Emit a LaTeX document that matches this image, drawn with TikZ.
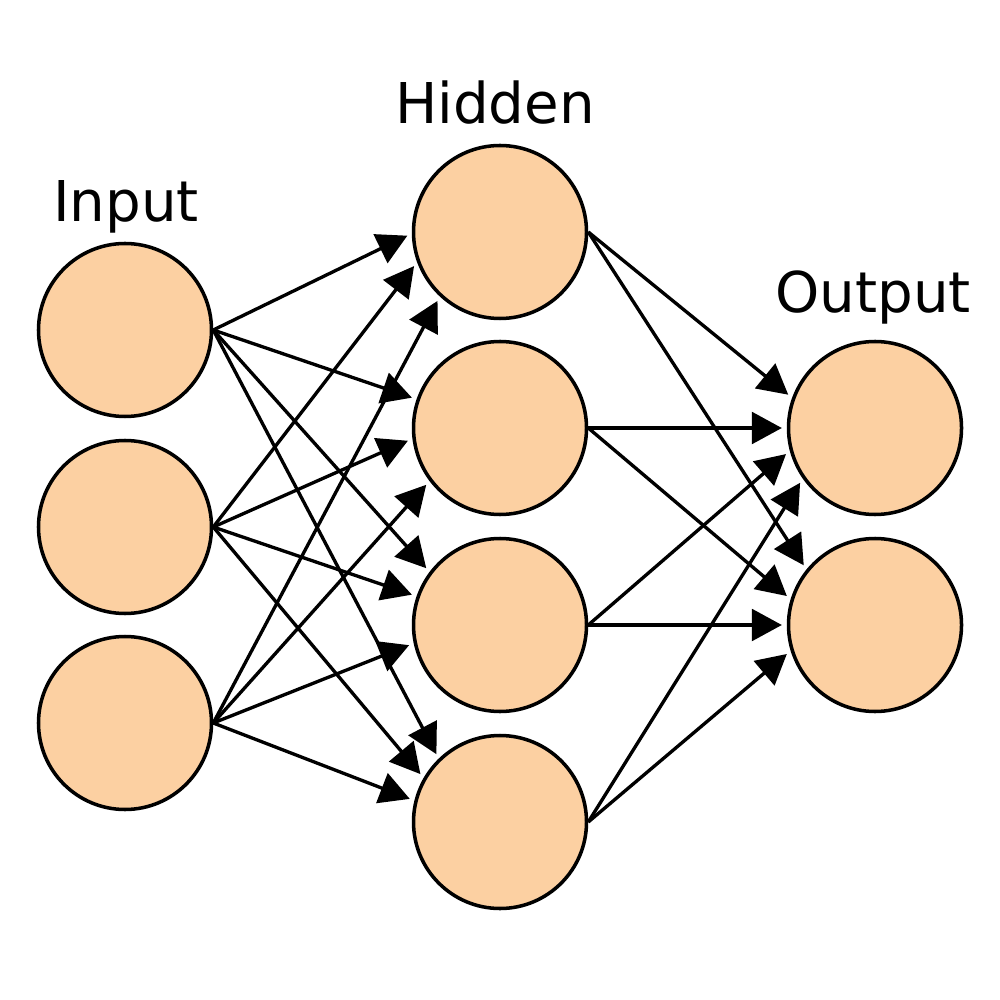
\documentclass[tikz,border=0pt]{standalone}
\usepackage{fontspec}
\setmainfont{DejaVu Sans}
\usetikzlibrary{arrows.meta}
\definecolor{peach}{RGB}{252,208,162}

\begin{document}
\begin{tikzpicture}[]
             \tikzstyle{neuron} = [draw=black,fill=peach,circle,line width=1pt,minimum size=1.73cm,inner sep=0pt]
             \tikzstyle{conn} = [-{Triangle[length=8.5pt,width=9pt]},line width=0.95pt,shorten >=1.4pt]
             \tikzstyle{layer} = [font=\fontsize{16}{19}\selectfont,anchor=base,inner sep=0pt]
		\useasboundingbox (0,0) rectangle (10,-10);
		% Input
		\node[layer] at (1.26,-2.22)(in_lbl) {Input};
		\node[neuron] at (1.25,-3.30)(in_1) {};
		\node[neuron] at (1.25,-5.27)(in_2) {};
		\node[neuron] at (1.25,-7.23)(in_3) {};
		% Hidden
		\node[layer] at (4.95,-1.24)(hid_lbl) {Hidden};
		\node[neuron] at (5.00,-2.32)(hid_1) {};
		\node[neuron] at (5.00,-4.28)(hid_2) {};
		\node[neuron] at (5.00,-6.25)(hid_3) {};
		\node[neuron] at (5.00,-8.22)(hid_4) {};
		% Output
		\node[layer] at (8.73,-3.13)(out_lbl) {Output};
		\node[neuron] at (8.75,-4.28)(out_1) {};
		\node[neuron] at (8.75,-6.25)(out_2) {};
		% Input -> Hidden
		\draw[conn] (in_1.east) -- (hid_1.181);
		\draw[conn] (in_1.east) -- (hid_2.161);
		\draw[conn] (in_1.east) -- (hid_3.143);
		\draw[conn] (in_1.east) -- (hid_4.134);
		\draw[conn] (in_2.east) -- (hid_1.200);
		\draw[conn] (in_2.east) -- (hid_2.187);
		\draw[conn] (in_2.east) -- (hid_3.161);
		\draw[conn] (in_2.east) -- (hid_4.150);
		\draw[conn] (in_3.east) -- (hid_1.227);
		\draw[conn] (in_3.east) -- (hid_2.217);
		\draw[conn] (in_3.east) -- (hid_3.192);
		\draw[conn] (in_3.east) -- (hid_4.166);
		% Hidden -> Output
		\draw[conn] (hid_1.east) -- (out_1.160);
		\draw[conn] (hid_1.east) -- (out_2.141);
		\draw[conn] (hid_2.east) -- (out_1.180);
		\draw[conn] (hid_2.east) -- (out_2.163);
		\draw[conn] (hid_3.east) -- (out_1.195);
		\draw[conn] (hid_3.east) -- (out_2.180);
		\draw[conn] (hid_4.east) -- (out_1.215);
		\draw[conn] (hid_4.east) -- (out_2.197);
		\end{tikzpicture}
\end{document}
